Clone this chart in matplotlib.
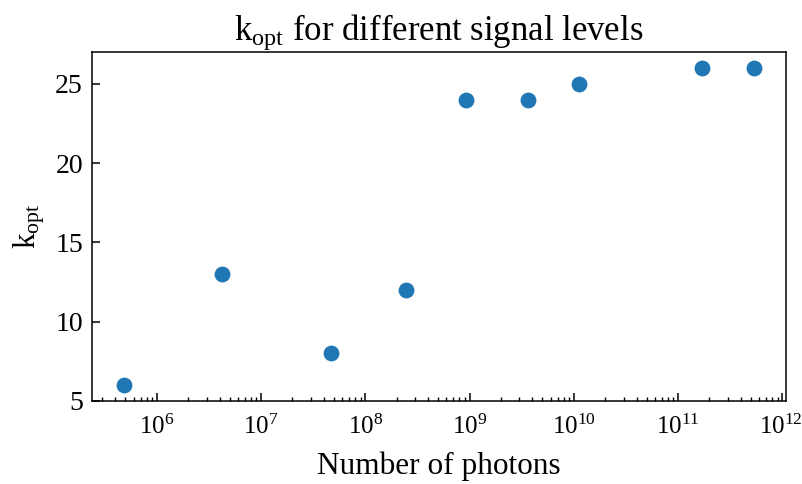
import matplotlib
matplotlib.use('Agg')
import matplotlib.pyplot as plt
import matplotlib.transforms as mtransforms

plt.rcParams.update({
    "font.family": "serif",
    "font.serif": ["Liberation Serif", "DejaVu Serif"],
    "mathtext.fontset": "custom",
    "mathtext.rm": "Liberation Serif",
    "mathtext.it": "Liberation Serif:italic",
    "font.size": 20,
    "xtick.labelsize": 18,
    "ytick.labelsize": 20,
    "xtick.direction": "in",
    "ytick.direction": "in",
})

# Number of photons and optimal k
photons = [4.8e5, 4.2e6, 4.7e7, 2.47e8, 9.2e8, 3.6e9, 1.11e10, 1.70e11, 5.4e11]
k_opt = [6, 13, 8, 12, 24, 24, 25, 26, 26]
xticks = [1e6, 1e7, 1e8, 1e9, 1e10, 1e11, 1e12]
yticks = [5, 10, 15, 20, 25]

fig = plt.figure(figsize=(8.03, 4.84), dpi=100)
ax = fig.add_axes([92 / 803, 1 - 401 / 484, (786 - 92) / 803, (401 - 52) / 484])

ax.scatter(photons, k_opt, s=130, color='#1f77b4', linewidths=0)
ax.set_xscale('log')
ax.set_xticks(xticks)
ax.set_yticks(yticks)
ax.tick_params(which='major', length=5.5, width=1.1)
ax.tick_params(which='minor', length=3, width=1.0)
ax.tick_params(axis='x', which='major', pad=10)
ax.tick_params(axis='y', which='major', pad=6.5)
for s in ax.spines.values():
    s.set_linewidth(1.1)

ax.set_xlabel('Number of photons', fontsize=22.5, labelpad=9)
ax.set_ylabel(r'k$_{\mathrm{opt}}$', fontsize=22.5, labelpad=6)
ax.set_title(r'k$_{\mathrm{opt}}$ for different signal levels', fontsize=25, pad=8)

# keep the last label (10^12) inside the figure
fig.canvas.draw()
last = ax.get_xticklabels()[-1]
last.set_horizontalalignment('right')
last.set_transform(last.get_transform() + mtransforms.ScaledTranslation(20 / 100, 0, fig.dpi_scale_trans))

fig.savefig('out.png', dpi=100)
